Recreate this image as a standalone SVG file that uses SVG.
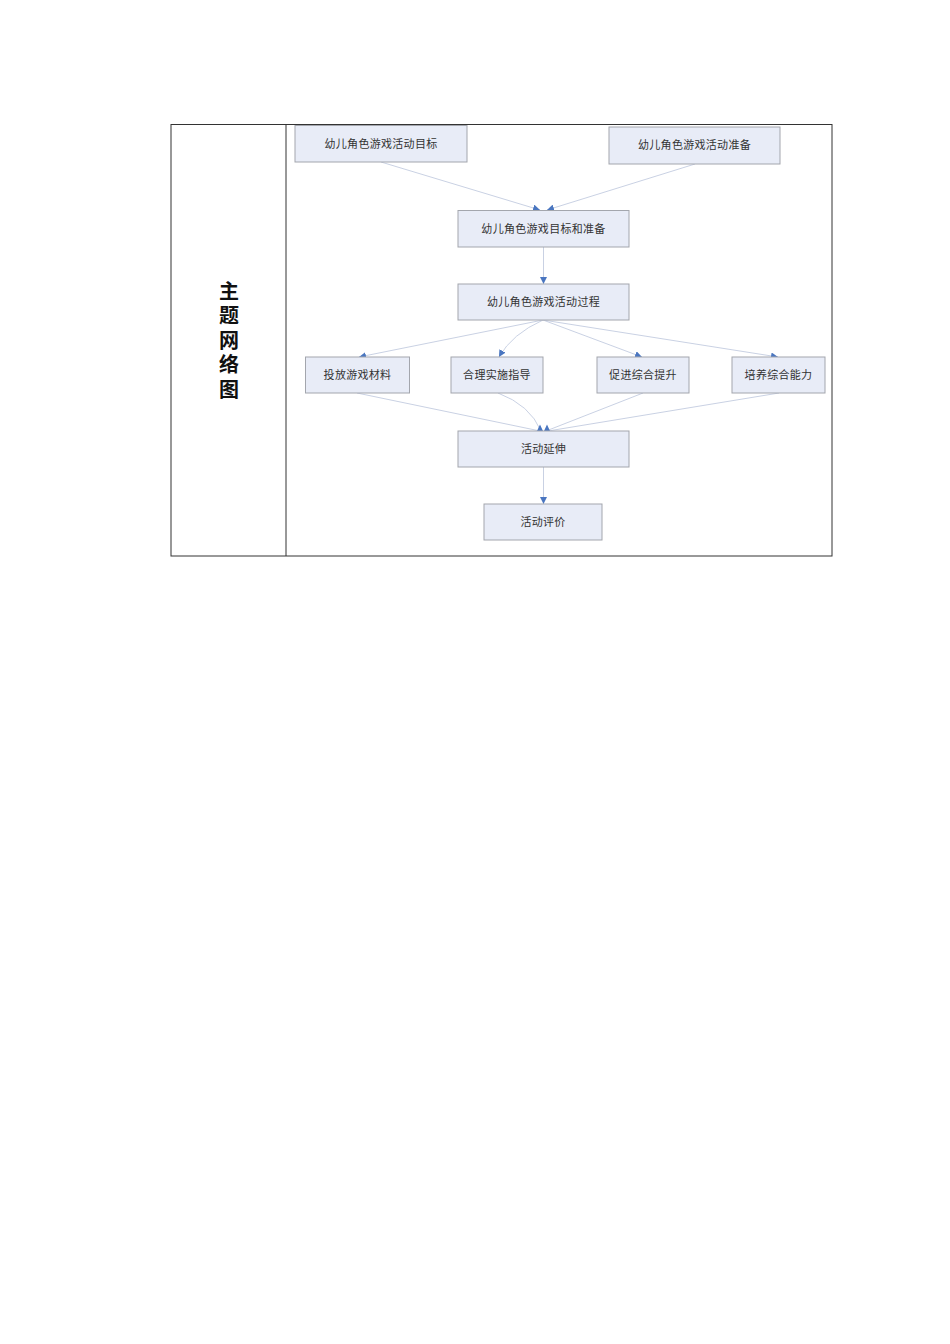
<svg xmlns="http://www.w3.org/2000/svg" width="950" height="1344" viewBox="0 0 950 1344">
<style>
.node rect{fill:#E8ECF7;stroke:#A3A6AD;stroke-width:1}
.node text{font-family:"Noto Sans CJK SC","Noto Sans",sans-serif;font-size:11px;fill:#333;text-anchor:middle;letter-spacing:0.3px}
.edge{fill:none;stroke:#C3CCE0;stroke-width:0.9}
.title{font-family:"Noto Sans CJK SC",sans-serif;font-size:20px;font-weight:bold;fill:#111;writing-mode:tb;letter-spacing:4.5px}
</style>
<defs>
<marker id="arr" viewBox="0 0 10 10" refX="10" refY="5" markerWidth="7" markerHeight="7" markerUnits="userSpaceOnUse" orient="auto">
<path d="M0,0 L10,5 L0,10 z" fill="#4A76C0"/>
</marker>
</defs>
<rect width="950" height="1344" fill="#fff"/>
<g id="table" fill="none" stroke="#333" stroke-width="1">
<rect x="171" y="124.5" width="661" height="431.5"/>
<line x1="286" y1="124.5" x2="286" y2="556"/>
</g>
<text class="title" x="229" y="281">主题网络图</text>
<g id="connectors">
<path class="edge" marker-end="url(#arr)" d="M381,162 L540,210"/>
<path class="edge" marker-end="url(#arr)" d="M695,164 L547,210"/>
<path class="edge" marker-end="url(#arr)" d="M543.5,247 L543.5,284"/>
<path class="edge" marker-end="url(#arr)" d="M543,320 L359,357"/>
<path class="edge" marker-end="url(#arr)" d="M543,320 Q512,334 499,357"/>
<path class="edge" marker-end="url(#arr)" d="M543,320 L642,357"/>
<path class="edge" marker-end="url(#arr)" d="M543,320 L778,357"/>
<path class="edge" d="M357,393 L540,431"/>
<path class="edge" d="M498,393 Q530,405 541,431"/>
<path class="edge" d="M643,393 L546,431"/>
<path class="edge" d="M779,393 L548,431"/>
<path d="M537,431 L540,424.5 L543,431 z M544,431 L547,424.5 L550,431 z" fill="#4A76C0"/>
<path class="edge" marker-end="url(#arr)" d="M543.5,467 L543.5,504"/>
</g>
<g id="n1" class="node"><rect x="295" y="125.5" width="172" height="36.5"/><text x="381" y="147.5">幼儿角色游戏活动目标</text></g>
<g id="n2" class="node"><rect x="609" y="127" width="171" height="37"/><text x="694.5" y="149">幼儿角色游戏活动准备</text></g>
<g id="n3" class="node"><rect x="458" y="210.5" width="171" height="36.5"/><text x="543.5" y="232.5">幼儿角色游戏目标和准备</text></g>
<g id="n4" class="node"><rect x="458" y="284" width="171" height="36"/><text x="543.5" y="305.5">幼儿角色游戏活动过程</text></g>
<g id="n5" class="node"><rect x="305.5" y="357" width="104" height="36"/><text x="357.5" y="379">投放游戏材料</text></g>
<g id="n6" class="node"><rect x="451" y="357" width="92" height="36"/><text x="497" y="379">合理实施指导</text></g>
<g id="n7" class="node"><rect x="597" y="357" width="92" height="36"/><text x="643" y="379">促进综合提升</text></g>
<g id="n8" class="node"><rect x="732" y="357" width="93" height="36"/><text x="778.5" y="379">培养综合能力</text></g>
<g id="n9" class="node"><rect x="458" y="431" width="171" height="36"/><text x="543.5" y="452.5">活动延伸</text></g>
<g id="n10" class="node"><rect x="484" y="504" width="118" height="36"/><text x="543" y="525.5">活动评价</text></g>
</svg>
